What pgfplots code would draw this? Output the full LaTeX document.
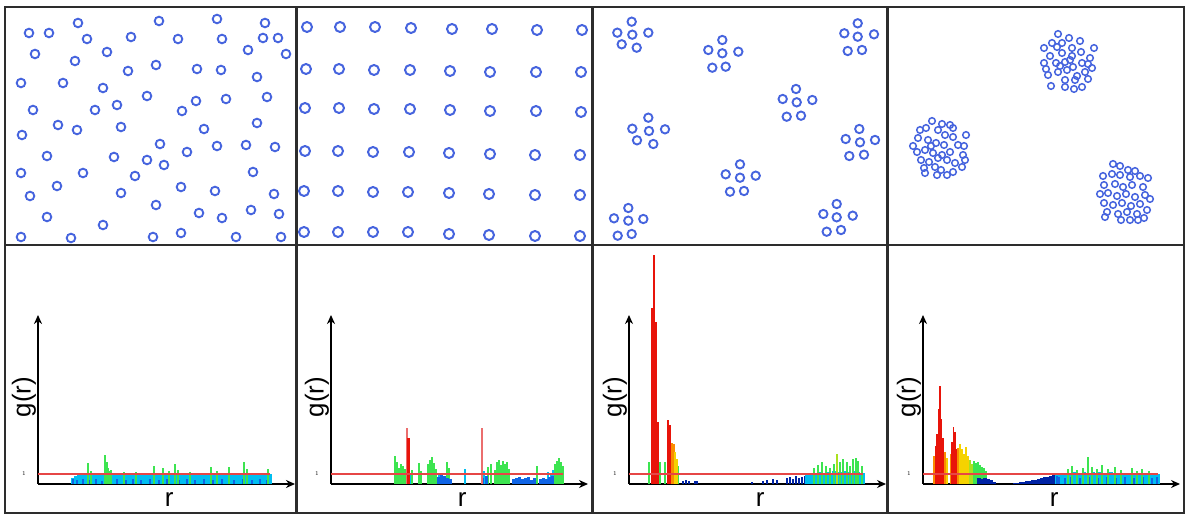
\documentclass[border=0pt]{standalone}
\usepackage{pgfplots}
\pgfplotsset{compat=1.18}
\usepackage{fontspec}
\setmainfont{Liberation Sans}
\usetikzlibrary{arrows.meta}
\definecolor{circ}{RGB}{70,100,222}
\definecolor{framec}{RGB}{45,45,45}
\definecolor{dblue}{RGB}{0,35,165}
\definecolor{mblue}{RGB}{15,100,230}
\definecolor{cyanb}{RGB}{0,190,240}
\definecolor{greenb}{RGB}{60,228,80}
\definecolor{ygreen}{RGB}{170,225,30}
\definecolor{yellowb}{RGB}{245,210,0}
\definecolor{orangeb}{RGB}{250,140,0}
\definecolor{redb}{RGB}{232,20,10}
\definecolor{lred}{RGB}{235,110,110}
\definecolor{redline}{RGB}{230,70,70}
\newcommand\lab{\fontsize{26}{26}\selectfont}
\pgfplotsset{
  gpanel/.style={scale only axis, width=257bp, height=169bp,
    xmin=0, xmax=257, ymin=0, ymax=16.9, axis lines=left,
    axis line style={line width=1.6bp, black, -{Stealth[length=9bp,width=8bp]}},
    xtick=\empty, ytick={1}, major tick length=0pt,
    yticklabel style={font=\fontsize{6}{6}\selectfont, anchor=east, inner sep=0pt, xshift=-12bp},
    xlabel={r}, ylabel={g(r)},
    xlabel style={at={(axis description cs:0.51,-0.136)}, anchor=base, inner sep=0pt, font=\lab},
    ylabel style={at={(axis description cs:-0.0545,0.515)}, anchor=center, inner sep=0pt, font=\lab},
    clip=false},
  comb/.style={ycomb, no markers, line width=#1},
}
\begin{document}
\begin{tikzpicture}
\path (0,0) rectangle (1192bp,516bp);
% ---------- top row: particle configurations (image pixel coordinates) ----------
\begin{axis}[at={(0,0)}, anchor=south west, scale only axis, width=1192bp, height=516bp,
  xmin=0, xmax=1192, ymin=0, ymax=516, y dir=reverse, hide axis, clip=false]
% random
\addplot[only marks, mark=o, mark size=4.3bp, mark options={line width=1.9bp, draw=circ}] coordinates {
(78,23)(159,21)(217,19)(265,23)(29,33)(49,33)(87,39)(131,37)(178,39)(222,39)(263,38)(278,38)
(35,54)(107,52)(248,50)(286,54)(75,61)(156,65)(128,71)(197,69)(221,70)(21,83)(63,83)(103,88)
(257,77)(147,96)(196,101)(226,99)(267,97)(33,110)(95,110)(117,105)(182,111)(58,125)(77,130)
(121,127)(204,129)(257,123)(22,135)(160,144)(187,152)(217,146)(246,145)(275,147)(47,156)
(114,157)(147,160)(164,165)(21,173)(83,173)(135,176)(253,172)(57,186)(30,196)(121,193)
(181,187)(215,191)(274,194)(47,217)(156,205)(199,213)(222,218)(251,210)(279,214)(103,225)
(21,237)(71,238)(153,237)(181,233)(236,237)(281,237)};
% lattice
\addplot[only marks, mark=o, mark size=5bp, mark options={line width=2bp, draw=circ}] coordinates {
(307,27)(340,27)(375,27)(411,28)(452,29)(492,29)(537,30)(582,30)
(306,69)(339,69)(374,70)(410,70)(450,71)(490,72)(536,72)(581,72)
(305,108)(339,108)(374,109)(410,109)(450,110)(490,111)(536,111)(581,112)
(305,151)(338,151)(373,152)(409,152)(449,153)(490,154)(535,155)(580,155)
(304,191)(338,191)(373,192)(408,192)(449,193)(489,194)(535,195)(580,195)
(304,232)(338,232)(373,232)(408,232)(449,234)(489,235)(535,236)(580,236)};
% small clusters
\addplot[only marks, mark=o, mark size=4.2bp, mark options={line width=1.9bp, draw=circ}] coordinates {
(631.7,21.7)(617.3,32.7)(632.3,34.7)(648.3,32.7)(621.7,44.3)(636.7,47.7)
(722.3,40)(708.3,50)(722.3,53.3)(738.3,51.7)(712.3,67.7)(725.7,66.7)
(857.7,23.3)(844.3,33.3)(857.7,36.7)(874,34.3)(847.7,51)(862,50)
(796,89)(782.7,99)(796.7,102.3)(812.3,100)(786.7,116.7)(801,115.7)
(648.3,117.7)(632.3,128.7)(649,131)(665,129.3)(637,140.3)(653.3,144)
(859.3,129)(845.7,139)(860,142.3)(875,140)(849.3,156)(864,154.7)
(740,164.3)(725.7,174.3)(740,177.7)(755.7,175.7)(730,191.7)(744,191)
(628.3,208)(614,218.3)(628.3,220.7)(643.3,219)(617.7,235.7)(631.7,234)
(836.7,204)(823.3,214)(836.7,217.3)(852.7,215.7)(826.7,231.7)(841,230)};
% large clusters
\addplot[only marks, mark=o, mark size=3.3bp, mark options={line width=1.5bp, draw=circ}] coordinates {
(1058,34)(1069,38)(1080,41)(1052,43)(1062,43)(1044,48)(1072,48)(1081,52)(1094,48)(1050,56)
(1062,53)(1072,56)(1090,58)(1044,63)(1056,63)(1065,62)(1073,67)(1082,63)(1092,68)(1048,75)
(1058,72)(1067,70)(1077,76)(1085,72)(1065,80)(1075,80)(1088,79)(1051,86)(1065,87)(1074,89)
(1082,87)(1057,47)(1088,64)(1060,66)(1070,60)(1046,69)
(932,121)(942,124)(950,125)(953,128)(920,130)(926,128)(938,130)(945,135)(953,137)(966,135)
(918,138)(928,140)(936,143)(944,145)(958,145)(964,146)(917,152)(925,150)(933,153)(942,155)
(950,152)(963,155)(921,160)(929,162)(938,158)(947,160)(955,163)(965,160)(924,168)(935,167)
(941,170)(953,172)(962,167)(925,173)(937,175)(947,175)(913,146)(931,146)
(1113,164)(1120,166)(1128,170)(1135,171)(1103,176)(1112,174)(1120,175)(1130,177)(1140,176)
(1148,178)(1104,185)(1115,184)(1123,187)(1132,185)(1143,187)(1100,194)(1108,193)(1117,196)
(1126,194)(1135,197)(1145,195)(1150,199)(1104,203)(1113,205)(1122,203)(1131,206)(1140,204)
(1147,210)(1107,212)(1118,214)(1127,212)(1137,214)(1144,218)(1105,217)(1121,220)(1130,220)(1138,220)};
\end{axis}
% ---------- bottom row: g(r) ----------
% panel 1: random
\begin{axis}[gpanel, at={(38bp,32bp)}, anchor=south west]
\addplot[comb=3.2bp, cyanb] coordinates {(35,0.6)(38,0.8)(41,0.9)(44,0.95)(47,1.0)(50,1.0)(53,0.95)(56,1.0)(59,1.0)(62,0.95)(65,1.05)(68,1.0)(71,1.1)(74,1.0)(77,1.0)(80,0.95)(83,1.0)(86,1.05)(89,1.0)(92,0.95)(95,1.0)(98,1.05)(101,1.0)(104,0.95)(107,1.0)(110,1.05)(113,1.0)(116,1.0)(119,1.05)(122,0.95)(125,1.0)(128,1.05)(131,1.0)(134,0.95)(137,1.0)(140,1.05)(143,1.0)(146,0.95)(149,1.0)(152,1.05)(155,1.0)(158,0.95)(161,1.0)(164,1.05)(167,1.0)(170,0.95)(173,1.0)(176,1.05)(179,1.0)(182,0.95)(185,1.0)(188,1.05)(191,1.0)(194,0.95)(197,1.0)(200,1.05)(203,1.0)(206,0.95)(209,1.0)(212,1.05)(215,1.0)(218,0.95)(221,1.0)(224,1.05)(227,1.0)(230,0.95)(232,1.0)};
\addplot[comb=2.5bp, mblue] coordinates {(35,0.5)(39,0.4)(45,0.5)(52,0.4)(58,0.5)(64,0.3)(79,0.5)(88,0.4)(95,0.5)(103,0.4)(112,0.5)(121,0.4)(129,0.5)(141,0.4)(149,0.5)(157,0.4)(166,0.5)(175,0.4)(184,0.5)(196,0.4)(205,0.5)(214,0.4)(222,0.5)(229,0.4)};
\addplot[comb=3bp, greenb] coordinates {(71,1.3)};
\addplot[comb=1.6bp, greenb] coordinates {(50,2.1)(53,1.3)(67,2.9)(69,2.2)(70.5,1.6)(73,1.4)(86,1.2)(98,1.15)(116,1.8)(125,1.6)(131,1.3)(137,2.0)(140,1.4)(152,1.2)(173,1.7)(179,1.3)(191,1.7)(206,2.2)(209,1.5)(230,1.5)};
\addplot[redline, line width=1.4bp, no markers] coordinates {(0,1)(232,1)};
\end{axis}
% panel 2: lattice
\begin{axis}[gpanel, at={(331bp,32bp)}, anchor=south west]
\addplot[comb=2bp, greenb] coordinates {(64,2.8)(66,2.2)(68,1.6)(70,2.0)(72,1.8)(74,1.5)(81,1.4)(88,2.1)(90,1.3)(97,2.0)(99,2.4)(101,2.7)(103,2.1)(105,1.5)(116,2.2)(118,1.6)(157,1.7)(160,2.0)(164,1.4)(166,2.2)(168,2.4)(170,1.9)(172,2.3)(174,2.0)(176,2.2)(178,1.5)(206,1.8)(224,2.0)(226,2.3)(228,2.6)(230,2.2)(232,1.8)};
\addplot[comb=2bp, cyanb] coordinates {(79,0.9)(108,1.0)(111,1.1)(134,1.5)(153,1.3)(217,1.2)(220,1.0)(222,1.4)};
\addplot[comb=3bp, mblue] coordinates {(107,0.7)(110,0.9)(113,0.8)(116,0.6)(119,0.5)(151,0.6)(155,0.8)(182,0.5)(185,0.6)(188,0.7)(191,0.5)(194,0.6)(197,0.7)(200,0.4)(203,0.6)(209,0.5)(212,0.6)(215,0.5)(218,0.7)(221,0.8)};
\addplot[comb=1.5bp, lred] coordinates {(76,5.6)(151,5.6)};
\addplot[comb=3bp, redb] coordinates {(77.8,4.6)};
\addplot[redline, line width=1.8bp, no markers] coordinates {(0,1)(232,1)};
\end{axis}
% panel 3: small clusters
\begin{axis}[gpanel, at={(629bp,32bp)}, anchor=south west]
\addplot[comb=2bp, greenb] coordinates {(20,2.2)(31,2.2)(36,2.2)(49,1.8)};
\addplot[comb=2.6bp, redb] coordinates {(23,17.6)(27,16.2)(29,6.2)(39,6.4)(41,5.9)};
\addplot[comb=2.6bp, redb] coordinates {(24.8,22.9)};
\addplot[comb=2bp, orangeb] coordinates {(43,4.1)(44.5,4.0)};
\addplot[comb=2bp, yellowb] coordinates {(46,3.2)(47.5,2.5)};
\addplot[comb=2.5bp, dblue] coordinates {(54,0.3)(57,0.4)(60,0.3)(66,0.35)(68,0.3)(123,0.25)(134,0.3)(138,0.4)(144,0.5)(148,0.4)(158,0.6)(161,0.7)(164,0.5)(167,0.8)(170,0.6)(173,0.7)(176,0.8)};
\addplot[comb=3.2bp, cyanb] coordinates {(178,0.9)(181,1.0)(184,1.1)(187,1.0)(190,1.2)(193,1.1)(196,1.0)(199,1.2)(202,1.1)(205,1.3)(208,1.1)(211,1.2)(214,1.1)(217,1.3)(220,1.2)(223,1.1)(226,1.3)(229,1.2)(232,1.0)(234,1.1)};
\addplot[comb=2bp, greenb] coordinates {(185,1.6)(189,1.9)(193,2.2)(197,1.8)(201,1.6)(205,2.0)(211,2.2)(214,2.5)(218,2.2)(221,1.8)(224,2.5)(227,2.6)(229,2.3)(233,1.8)};
\addplot[comb=1.6bp, ygreen] coordinates {(208,3.0)};
\addplot[redline, line width=1.4bp, no markers] coordinates {(0,1)(234,1)};
\end{axis}
% panel 4: large clusters
\begin{axis}[gpanel, at={(923bp,32bp)}, anchor=south west]
\addplot[comb=2bp, orangeb] coordinates {(11,2.8)(21.5,3.2)(27.5,3.0)(35,3.6)};
\addplot[comb=1.8bp, redb] coordinates {(12.5,3.8)(14,5.0)(15.5,7.5)(17,9.8)(18.5,6.5)(20,4.6)(29,4.2)(30.5,5.7)(32,5.2)(33.5,3.5)};
\addplot[comb=2bp, yellowb] coordinates {(24,2.6)(37,4.0)(39,3.5)(41,3.0)(43,3.7)(45,2.8)};
\addplot[comb=2bp, ygreen] coordinates {(47,2.4)(49,2.0)};
\addplot[comb=2bp, greenb] coordinates {(51,2.3)(53,2.1)(55,2.2)(57,1.9)(59,1.7)(61,1.6)(63,1.3)};
\addplot[comb=3.2bp, dblue] coordinates {(56,0.6)(59,0.5)(62,0.6)(65,0.5)(68,0.4)(71,0.25)(92,0.1)(95,0.15)(98,0.2)(101,0.25)(104,0.3)(107,0.35)(110,0.4)(113,0.45)(116,0.5)(119,0.6)(122,0.65)(125,0.7)(128,0.8)(131,0.85)};
\addplot[comb=3.2bp, cyanb] coordinates {(134,0.95)(137,1.0)(140,1.05)(143,1.1)(146,1.0)(149,1.1)(152,1.15)(155,1.05)(158,1.1)(161,1.2)(164,1.1)(167,1.05)(170,1.15)(173,1.1)(176,1.2)(179,1.1)(182,1.05)(185,1.1)(188,1.15)(191,1.1)(194,1.05)(197,1.1)(200,1.1)(203,1.0)(206,1.05)(209,1.1)(212,1.0)(215,1.05)(218,1.1)(221,1.0)(224,1.05)(227,1.0)(230,0.95)(233,1.0)(235,1.0)};
\addplot[comb=2.5bp, mblue] coordinates {(134,0.8)(136,0.7)(142,0.6)(148,0.7)(157,0.6)(166,0.7)(175,0.6)(184,0.7)(193,0.6)(202,0.7)(211,0.6)(220,0.7)(229,0.6)(234,0.7)};
\addplot[comb=1.5bp, greenb] coordinates {(145,1.5)(149,1.8)(154,1.4)(160,1.6)(165,2.7)(169,1.7)(174,1.5)(179,1.9)(185,1.5)(192,1.7)(198,1.4)(209,1.6)(214,1.3)(219,1.5)(226,1.3)};
\addplot[redline, line width=1.1bp, no markers] coordinates {(0,1)(235,1)};
\end{axis}
% ---------- panel frame ----------
\draw[line width=2.2bp, framec] (5bp,3bp) rectangle (1184bp,509bp);
\draw[line width=2.2bp, framec] (5bp,271bp) -- (1184bp,271bp);
\foreach \xx in {296.5,592.5,887.5} \draw[line width=2.2bp, framec] (\xx bp,3bp) -- (\xx bp,509bp);
\pgfresetboundingbox
\path[use as bounding box] (0,0) rectangle (1192bp,516bp);
\end{tikzpicture}
\end{document}
